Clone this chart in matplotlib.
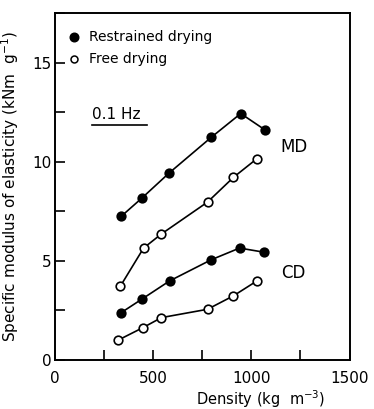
import matplotlib
matplotlib.use("Agg")
import matplotlib.pyplot as plt
from matplotlib.ticker import MultipleLocator

plt.rcParams['font.family'] = ['DejaVu Sans']

# Data
md_restrained_x = [339, 444, 583, 797, 947, 1068]
md_restrained_y = [7.25, 8.17, 9.44, 11.24, 12.44, 11.63]
md_free_x = [334, 453, 542, 778, 910, 1029]
md_free_y = [3.71, 5.65, 6.35, 7.97, 9.22, 10.16]
cd_restrained_x = [339, 444, 585, 797, 941, 1066]
cd_restrained_y = [2.39, 3.07, 3.99, 5.06, 5.65, 5.44]
cd_free_x = [325, 449, 544, 778, 910, 1029]
cd_free_y = [1.01, 1.63, 2.14, 2.56, 3.24, 3.99]

xticks = [0, 500, 1000, 1500]
yticks = [0, 5, 10, 15]

fig = plt.figure(figsize=(3.74, 4.09), dpi=100)
ax = fig.add_axes([54.5/374, 1 - 360/409, 295/374, (360 - 13.3)/409])

mk = dict(markersize=6.2, color='black', linewidth=1.2, markeredgewidth=1.2)
ax.plot(md_restrained_x, md_restrained_y, 'o-', markerfacecolor='black', **mk)
ax.plot(md_free_x, md_free_y, 'o-', markerfacecolor='white', **mk)
ax.plot(cd_restrained_x, cd_restrained_y, 'o-', markerfacecolor='black', **mk)
ax.plot(cd_free_x, cd_free_y, 'o-', markerfacecolor='white', **mk)

ax.set_xlim(0, 1500)
ax.set_ylim(0, 17.5)
ax.set_xticks(xticks)
ax.set_yticks(yticks)
ax.xaxis.set_minor_locator(MultipleLocator(250))
ax.yaxis.set_minor_locator(MultipleLocator(2.5))
ax.tick_params(which='both', direction='in', width=1.2, labelsize=11, top=False, right=False)
ax.tick_params(which='major', length=7)
ax.tick_params(which='minor', length=7)
ax.tick_params(axis='x', which='major', pad=8)
ax.tick_params(axis='y', which='major', pad=2)
for s in ax.spines.values():
    s.set_linewidth(1.4)

ax.set_ylabel('Specific modulus of elasticity (kNm  g$^{-1}$)', fontsize=11)
ax.yaxis.set_label_coords(-0.115, 0.5)
ax.set_xlabel('Density (kg  m$^{-3}$)', fontsize=10.5, va='center')
ax.xaxis.set_label_coords(0.70, -0.112)

# Legend
ax.plot([100], [16.28], 'o', color='black', markersize=6.2)
ax.plot([100], [15.2], 'o', color='black', markerfacecolor='white', markersize=5, markeredgewidth=1.1)
ax.text(175, 16.28, 'Restrained drying', fontsize=10, va='center', ha='left')
ax.text(175, 15.2, 'Free drying', fontsize=10, va='center', ha='left')

ax.text(190, 12.0, '0.1 Hz', fontsize=11, va='bottom', ha='left')
ax.plot([190, 470], [11.85, 11.85], color='black', linewidth=1.2)

ax.text(1150, 10.75, 'MD', fontsize=12, va='center', ha='left')
ax.text(1150, 4.4, 'CD', fontsize=12, va='center', ha='left')

fig.savefig('out.png', dpi=100)
